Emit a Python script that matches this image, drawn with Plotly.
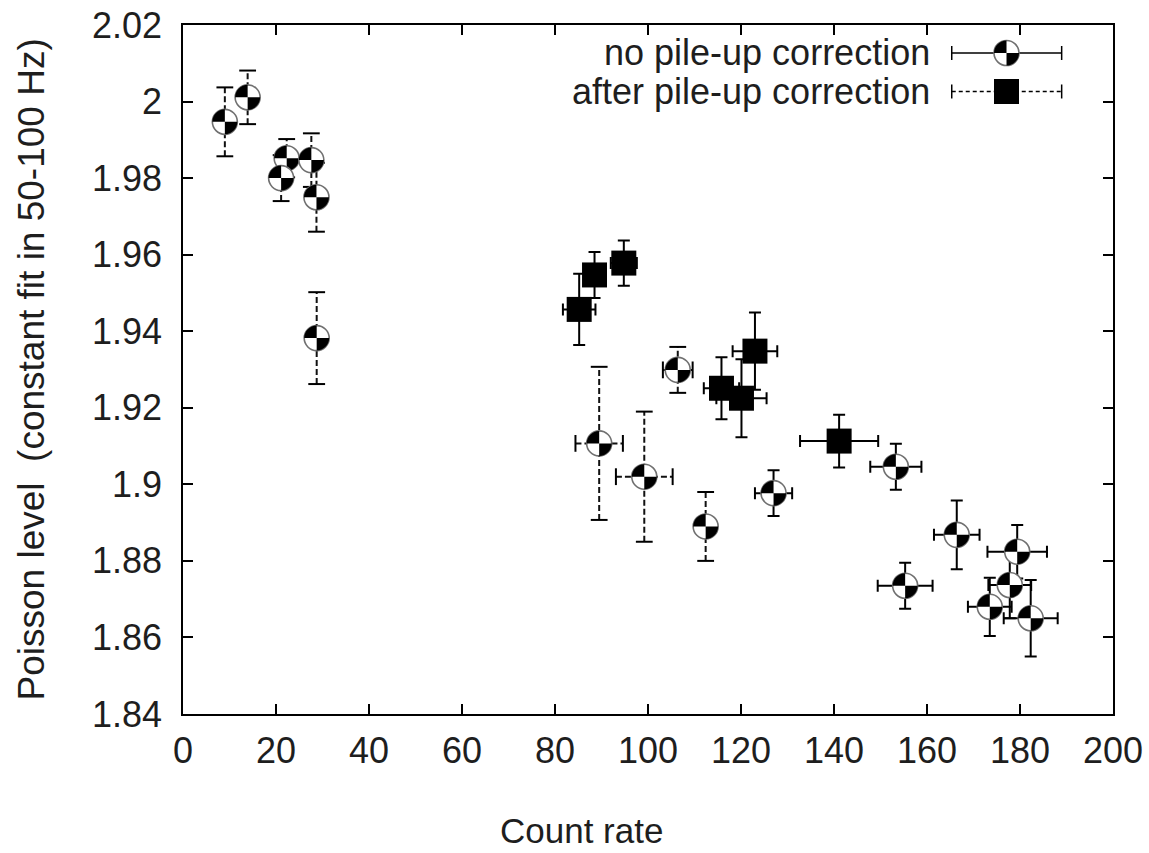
import plotly.graph_objects as go

# ---------------- data ----------------
# circles, "no pile-up correction", points drawn with dashed error bars
cd_x  = [9.0, 13.9, 22.3, 21.1, 27.6, 28.7, 28.75, 89.5, 99.2, 106.4, 112.4]
cd_y  = [1.9947, 2.0011, 1.9852, 1.9800, 1.9847, 1.9750, 1.9382, 1.9107, 1.9020, 1.9299, 1.8890]
cd_ey = [0.009, 0.007, 0.005, 0.006, 0.007, 0.009, 0.012, 0.020, 0.017, 0.006, 0.009]
cd_ex = [0, 0, 0, 0, 0, 0, 0, 5.1, 6.1, 3.2, 0]

# circles, "no pile-up correction", points drawn with solid error bars
cs_x  = [127.0, 153.3, 155.3, 166.4, 179.4, 177.8, 173.5, 182.3]
cs_y  = [1.8977, 1.9046, 1.8735, 1.8868, 1.8824, 1.8737, 1.8680, 1.8650]
cs_ey = [0.006, 0.006, 0.006, 0.009, 0.007, 0.0087, 0.0076, 0.010]
cs_ex = [4.0, 5.5, 5.9, 4.9, 6.4, 4.6, 4.7, 5.8]

# squares, "after pile-up correction"
sq_x  = [85.2, 88.5, 94.8, 115.8, 120.1, 123.0, 141.1]
sq_y  = [1.9457, 1.9547, 1.9578, 1.9251, 1.9225, 1.9348, 1.9113]
sq_ey = [0.0093, 0.006, 0.0059, 0.0081, 0.0102, 0.0101, 0.0069]
sq_ex = [3.5, 2.0, 2.8, 3.8, 5.4, 4.8, 8.4]

x_ticks = [0, 20, 40, 60, 80, 100, 120, 140, 160, 180, 200]
x_ticklabels = ["0", "20", "40", "60", "80", "100", "120", "140", "160", "180", "200"]
y_ticks = [1.84, 1.86, 1.88, 1.90, 1.92, 1.94, 1.96, 1.98, 2.00, 2.02]
y_ticklabels = ["1.84", "1.86", "1.88", "1.9", "1.92", "1.94", "1.96", "1.98", "2", "2.02"]

legend_labels = ["no pile-up correction", "after pile-up correction"]
x_title = "Count rate"
y_title = "Poisson level  (constant fit in 50-100 Hz)"

# ---------------- style ----------------
FONT = "Liberation Sans, Arial, sans-serif"
TXT = "#1e1e1e"
LW = 2
R = 12.5          # circle marker radius (px)
SQ = 25           # square marker side (px)
K = 0.5523 * R

fig = go.Figure()

# dashed error bars (built from the data arrays)
vx, vy, hx, hy = [], [], [], []
capv_x, capv_y, caph_x, caph_y = [], [], [], []
for x, y, ex, ey in zip(cd_x, cd_y, cd_ex, cd_ey):
    if ey > 0:
        vx += [x, x, None]; vy += [y - ey, y + ey, None]
        capv_x += [x, x]; capv_y += [y - ey, y + ey]
    if ex > 0:
        hx += [x - ex, x + ex, None]; hy += [y, y, None]
        caph_x += [x - ex, x + ex]; caph_y += [y, y]

for xs, ys in ((vx, vy), (hx, hy)):
    fig.add_trace(go.Scatter(x=xs, y=ys, mode="lines", hoverinfo="skip",
                             line=dict(color="#111111", width=LW, dash="6px,3px")))
fig.add_trace(go.Scatter(x=capv_x, y=capv_y, mode="markers", hoverinfo="skip",
                         marker=dict(symbol="line-ew", size=12, line=dict(color="black", width=LW))))
fig.add_trace(go.Scatter(x=caph_x, y=caph_y, mode="markers", hoverinfo="skip",
                         marker=dict(symbol="line-ns", size=12, line=dict(color="black", width=LW))))

# solid error bars for the other circles
fig.add_trace(go.Scatter(
    x=cs_x, y=cs_y, mode="markers", hoverinfo="skip",
    marker=dict(size=1, color="rgba(0,0,0,0)"),
    error_y=dict(type="data", array=cs_ey, color="black", thickness=LW, width=6),
    error_x=dict(type="data", array=cs_ex, color="black", thickness=LW, width=6),
))

# squares with solid error bars
fig.add_trace(go.Scatter(
    x=sq_x, y=sq_y, mode="markers", name=legend_labels[1],
    marker=dict(symbol="square", size=SQ, color="black", line=dict(width=0)),
    error_y=dict(type="data", array=sq_ey, color="black", thickness=LW, width=6),
    error_x=dict(type="data", array=sq_ex, color="black", thickness=LW, width=6),
))

# quadrant circle marker glyph (pixel-sized, anchored at each data point)
wedges = (f"M0,0 L{-R},0 C{-R},{K} {-K},{R} 0,{R} Z "
          f"M0,0 L{R},0 C{R},{-K} {K},{-R} 0,{-R} Z")

def circle_marker(xa, ya, xref="x", yref="y"):
    common = dict(xref=xref, yref=yref, xsizemode="pixel", ysizemode="pixel",
                  xanchor=xa, yanchor=ya, layer="above")
    fig.add_shape(type="circle", x0=-R, x1=R, y0=-R, y1=R,
                  fillcolor="white", line=dict(color="#707070", width=1.6), **common)
    fig.add_shape(type="path", path=wedges, fillcolor="black",
                  line=dict(width=0), **common)

for x, y in zip(cd_x + cs_x, cd_y + cs_y):
    circle_marker(x, y)

# ---------------- manual legend (gnuplot style: text, then sample) ----------------
row_y = [0.9594, 0.9035]
lx0, lx1, lxm, ltxt = 0.8266, 0.9448, 0.8855, 0.8050
for i, (lab, ry) in enumerate(zip(legend_labels, row_y)):
    fig.add_annotation(x=ltxt, y=ry, xref="paper", yref="paper", text=lab,
                       showarrow=False, xanchor="right", yanchor="middle",
                       font=dict(family=FONT, size=36, color=TXT))
    dash = "solid" if i == 0 else "4px,3px"
    fig.add_shape(type="line", xref="paper", yref="paper", x0=lx0, x1=lx1, y0=ry, y1=ry,
                  line=dict(color="black", width=1.5, dash=dash))
    for cx in (lx0, lx1):
        fig.add_shape(type="line", xref="paper", yref="paper", ysizemode="pixel",
                      yanchor=ry, x0=cx, x1=cx, y0=-7, y1=7,
                      line=dict(color="black", width=1.5))
    if i == 0:
        circle_marker(lxm, ry, "paper", "paper")
    else:
        fig.add_shape(type="rect", xref="paper", yref="paper", xsizemode="pixel",
                      ysizemode="pixel", xanchor=lxm, yanchor=ry,
                      x0=-SQ / 2, x1=SQ / 2, y0=-SQ / 2, y1=SQ / 2,
                      fillcolor="black", line=dict(width=0))

# ---------------- axis titles ----------------
fig.add_annotation(x=0.429, y=-0.1684, xref="paper", yref="paper", text=x_title,
                   showarrow=False, xanchor="center", yanchor="middle",
                   font=dict(family=FONT, size=35, color=TXT))
fig.add_annotation(x=-0.1624, y=0.5, xref="paper", yref="paper", text=y_title,
                   showarrow=False, textangle=-90, xanchor="center", yanchor="middle",
                   font=dict(family=FONT, size=37, color=TXT))

axis_common = dict(
    ticks="inside", ticklen=10, tickwidth=1.5, tickcolor="black",
    showline=True, linewidth=1.5, linecolor="black", mirror="ticks",
    showgrid=False, zeroline=False, automargin=False,
    tickfont=dict(family=FONT, size=36, color=TXT),
)
fig.update_layout(
    width=1149, height=853,
    margin=dict(l=183, r=36, t=25, b=139),
    paper_bgcolor="white", plot_bgcolor="white",
    showlegend=False,
    xaxis=dict(range=[0, 200], tickmode="array", tickvals=x_ticks, ticktext=x_ticklabels,
               ticklabelstandoff=4, **axis_common),
    yaxis=dict(range=[1.84, 2.02], tickmode="array", tickvals=y_ticks, ticktext=y_ticklabels,
               ticklabelstandoff=12, **axis_common),
)

fig.write_html("out.html")
